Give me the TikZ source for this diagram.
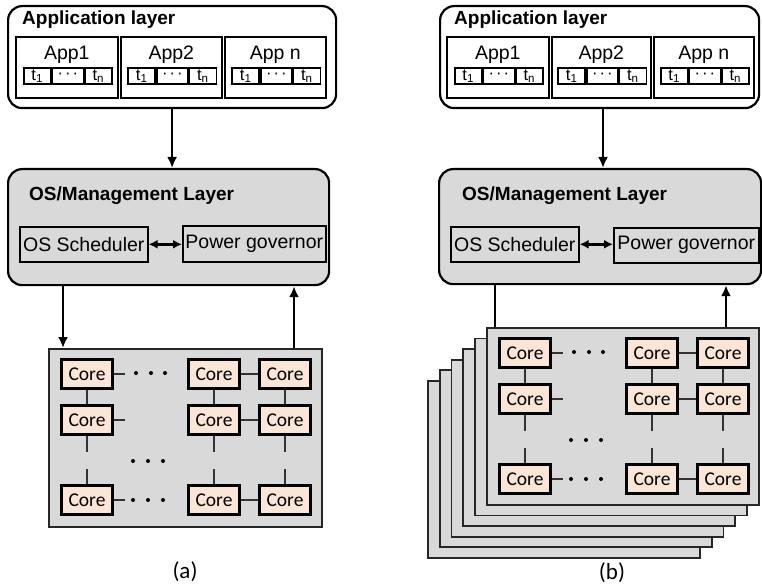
\documentclass[tikz,border=0pt]{standalone}
\usepackage{fontspec}
\setmainfont{Liberation Sans}
\newfontfamily\calibri{Carlito}
\usetikzlibrary{arrows.meta}
\definecolor{coref}{HTML}{FBE5D6}
\definecolor{panel}{HTML}{D9D9D9}
\tikzset{
  layer/.style={draw, line width=2.2pt, rounded corners=14pt, anchor=north west, inner sep=0},
  appbox/.style={draw, line width=1.6pt, fill=white, anchor=north west, inner sep=0, minimum height=61},
  tbox/.style={draw, line width=1.6pt, fill=white, inner sep=0, minimum height=16, font=\fontsize{16.5}{16}\selectfont},
  inbox/.style={draw, line width=1.6pt, anchor=north west, inner sep=0},
  plate/.style={draw=black!85, line width=1.7pt, fill=panel, anchor=north west, inner sep=0, minimum width=272, minimum height=177},
  core/.style={draw, line width=2.7pt, fill=coref, minimum width=50.5, minimum height=28.5, inner sep=0, font=\calibri\fontsize{19.5}{19}\selectfont},
  link/.style={line width=1.3pt, draw=black!80},
  arr/.style={line width=2.4pt, -{Latex[length=11pt,width=10pt]}},
  darr/.style={line width=2.4pt, {Latex[length=9pt,width=9pt]}-{Latex[length=9pt,width=9pt]}},
  ttl/.style={anchor=west, inner sep=0, font=\bfseries\fontsize{19}{20}\selectfont},
  lbl/.style={inner sep=0, font=\fontsize{19.5}{20}\selectfont},
  captext/.style={inner sep=0, font=\calibri\fontsize{23}{24}\selectfont},
  dotc/.style={fill=black, draw=none}
}
\newcommand\mkapp[4]{% name, left x, width, label
  \node[appbox, minimum width=#3] (#1) at (#2,36) {};
  \node[lbl] (#1-l) at ([yshift=-19pt]#1.north) {#4};
  \node[tbox, minimum width=31] (#1-d) at ([xshift=1pt, yshift=-40pt]#1.north) {\textperiodcentered\kern2pt\textperiodcentered\kern2pt\textperiodcentered};
  \node[tbox, minimum width=27, anchor=east] (#1-t1) at (#1-d.west) {t\textsubscript{1}};
  \node[tbox, minimum width=27, anchor=west] (#1-tn) at (#1-d.east) {t\textsubscript{n}};
}
\newcommand\mkgrid[3]{% prefix, x0, y0
  \begin{scope}[shift={(#2,#3)}]
    \node[core] (#1-11) at (39,26) {Core};
    \node[core] (#1-12) at (166,26) {Core};
    \node[core] (#1-13) at (237,26) {Core};
    \node[core] (#1-21) at (39,72) {Core};
    \node[core] (#1-22) at (166,72) {Core};
    \node[core] (#1-23) at (237,72) {Core};
    \node[core] (#1-31) at (39,152) {Core};
    \node[core] (#1-32) at (166,152) {Core};
    \node[core] (#1-33) at (237,152) {Core};
    \foreach \dx in {88,103,117} \fill[dotc] (\dx,25) circle (2);
    \foreach \dx in {85,100,115} {\fill[dotc] (\dx,113) circle (2); \fill[dotc] (\dx,152) circle (2);}
  \end{scope}
  \draw[link] (#1-11) -- (#1-21);
  \draw[link] (#1-12) -- (#1-22);
  \draw[link] (#1-13) -- (#1-23);
  \draw[link] (#1-12) -- (#1-13);
  \draw[link] (#1-22) -- (#1-23);
  \draw[link] (#1-32) -- (#1-33);
  \draw[link] (#1-11.east) -- ++(11,0);
  \draw[link] (#1-21.east) -- ++(11,0);
  \draw[link] (#1-31.east) -- ++(11,0);
  \foreach \c in {21,22,23} \draw[link] (#1-\c.south) -- ++(0,16);
  \foreach \c in {31,32,33} \draw[link] (#1-\c.north) -- ++(0,-15);
}
\begin{document}
\begin{tikzpicture}[x=1pt,y=-1pt]
\useasboundingbox (0,0) rectangle (762,588);

% ---------------- (a) ----------------
\node[layer, minimum width=328, minimum height=102] (appL) at (7,5) {};
\node[ttl] (appLt) at (22,20) {Application layer};
\mkapp{La1}{15}{102}{App1}
\mkapp{La2}{120}{101}{App2}
\mkapp{La3}{224}{101}{App n}

\node[layer, fill=panel, minimum width=321, minimum height=116] (osL) at (7,168) {};
\node[ttl] (osLt) at (29,196) {OS/Management Layer};
\node[inbox, minimum width=128, minimum height=35, lbl, anchor=north west] (schedL) at (19,226) {OS Scheduler};
\node[inbox, minimum width=143, minimum height=36, lbl, anchor=north west] (powL) at (182,225) {Power governor};
\draw[darr] (schedL.east) -- (schedL.east -| powL.west);

\draw[arr] (appL.south) -- (appL.south |- osL.north);

\node[plate, minimum width=273, minimum height=178] (gridL) at (48,348) {};
\mkgrid{gL}{48}{348}
\coordinate (dL) at (63,0);
\coordinate (uL) at (294,0);
\draw[arr] (osL.south -| dL) -- (gridL.north -| dL);
\draw[arr] (gridL.north -| uL) -- (osL.south -| uL);

\node[captext] (capa) at (185,572) {(a)};

% ---------------- (b) ----------------
\node[layer, minimum width=319, minimum height=102] (appR) at (439,5) {};
\node[ttl] (appRt) at (454,20) {Application layer};
\mkapp{Ra1}{446}{102}{App1}
\mkapp{Ra2}{551}{99}{App2}
\mkapp{Ra3}{653}{100}{App n}

\node[layer, fill=panel, minimum width=322, minimum height=115] (osR) at (438,168) {};
\node[ttl] (osRt) at (462,196) {OS/Management Layer};
\node[inbox, minimum width=128, minimum height=35, lbl, anchor=north west] (schedR) at (450,226) {OS Scheduler};
\node[inbox, minimum width=145, minimum height=35, lbl, anchor=north west] (powR) at (613,227) {Power governor};
\draw[darr] (schedR.east) -- (schedR.east -| powR.west);

\coordinate (aR) at (603,0);
\draw[arr] (appR.south -| aR) -- (osR.north -| aR);

\foreach \k in {5,4,3,2,1}
  \node[plate] (stk\k) at ({486-11.8*\k},{327+10.6*\k}) {};
\node[plate] (gridR) at (486,327) {};
\mkgrid{gR}{486}{327}
\coordinate (dR) at (495,0);
\coordinate (uR) at (726,0);
\draw[line width=2.4pt] (osR.south -| dR) -- (gridR.north -| dR);
\draw[arr] (gridR.north -| uR) -- (osR.south -| uR);

\node[captext] (capb) at (612,573) {(b)};
\end{tikzpicture}
\end{document}
